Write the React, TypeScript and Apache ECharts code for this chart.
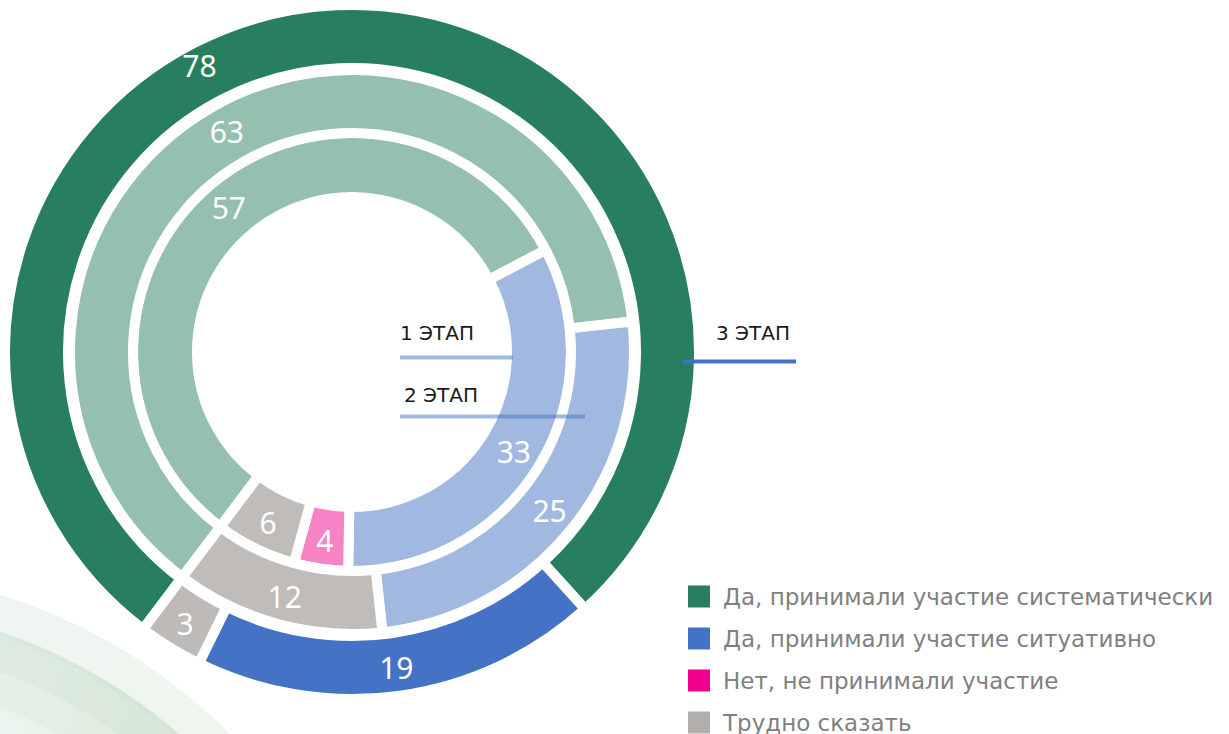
import React, { useEffect, useRef } from "react";
import * as echarts from "echarts";

const categories = [
  "Да, принимали участие систематически",
  "Да, принимали участие ситуативно",
  "Нет, не принимали участие",
  "Трудно сказать",
];
const stage1Values: (number | null)[] = [57, 33, 4, 6];
const stage2Values: (number | null)[] = [63, 25, null, 12];
const stage3Values: (number | null)[] = [78, 19, null, 3];

const darkColors = ["#287F60", "#4472C4", "#F0008C", "#B2AEAC"];
const lightColors = ["#95BFAF", "#A1B8E0", "#F782C6", "#BFBCBA"];
const outerColors = ["#287F60", "#4472C4", "#F0008C", "#BDBAB8"];

const FONT = "'Noto Sans', 'DejaVu Sans', sans-serif";
const WIDE_FONT = "'DejaVu Sans', 'Noto Sans', sans-serif";
const CX = 352;
const CY = 352;
const START = 233;
const LABEL78_ANGLE = 118;
const LABEL78_R = 325;

function buildData(values: (number | null)[], colors: string[]) {
  return categories
    .map((name, i) => ({ name, value: values[i], itemStyle: { color: colors[i] } }))
    .filter((d) => d.value !== null);
}

export default function App() {
  const ref = useRef<HTMLDivElement>(null);
  useEffect(() => {
    const chart = echarts.init(ref.current!, null, { renderer: "svg" });
    const baseSeries = {
      type: "pie",
      center: [CX, CY],
      startAngle: START,
      clockwise: true,
      silent: true,
      avoidLabelOverlap: false,
      label: {
        show: true,
        position: "inside",
        formatter: "{c}",
        color: "#ffffff",
        fontSize: 30,
        fontFamily: FONT,
        fontWeight: "normal",
      },
      labelLine: { show: false },
      itemStyle: { borderColor: "#ffffff", borderWidth: 10 },
      emphasis: { disabled: true },
    };
    const a = (LABEL78_ANGLE * Math.PI) / 180;
    const decoStops = (c1: string, c2: string) =>
      new echarts.graphic.LinearGradient(0, 600, 240, 734, [
        { offset: 0, color: c1 },
        { offset: 1, color: c2 },
      ], true);
    chart.setOption({
      animation: false,
      legend: {
        orient: "vertical",
        left: 688,
        top: 585,
        height: 160,
        padding: 0,
        itemWidth: 22,
        itemHeight: 22,
        itemGap: 19,
        icon: "rect",
        selectedMode: false,
        itemStyle: { borderWidth: 0 },
        textStyle: { color: "#808080", fontSize: 23, lineHeight: 22, fontFamily: WIDE_FONT, padding: [0, 0, 0, 8] },
        data: categories.map((name, i) => ({ name, itemStyle: { color: darkColors[i], borderWidth: 0 } })),
      },
      graphic: [
        { type: "circle", z: 0, shape: { cx: -165, cy: 1128, r: 558 }, style: { fill: decoStops("#EFF5F2", "#EFF6ED") } },
        { type: "circle", z: 0, shape: { cx: -165, cy: 1128, r: 523 }, style: { fill: decoStops("#D8E7E0", "#D2E5CF") } },
        { type: "circle", z: 0, shape: { cx: -165, cy: 1128, r: 519 }, style: { fill: decoStops("#DDEAE4", "#D7E8D3") } },
        { type: "circle", z: 0, shape: { cx: -165, cy: 1128, r: 485 }, style: { fill: decoStops("#E5EFEA", "#DFECDB") } },
        { type: "circle", z: 0, shape: { cx: -165, cy: 1128, r: 452 }, style: { fill: decoStops("#EDF4F1", "#E8F1E5") } },
        { type: "text", z: 100, x: 400, y: 333, style: { text: "1 ЭТАП", fontSize: 20, fontFamily: WIDE_FONT, fill: "#1A1A1A", verticalAlign: "middle" } },
        { type: "text", z: 100, x: 404, y: 395, style: { text: "2 ЭТАП", fontSize: 20, fontFamily: WIDE_FONT, fill: "#1A1A1A", verticalAlign: "middle" } },
        { type: "text", z: 100, x: 716, y: 333, style: { text: "3 ЭТАП", fontSize: 20, fontFamily: WIDE_FONT, fill: "#1A1A1A", verticalAlign: "middle" } },
        { type: "line", z: 100, shape: { x1: 400, y1: 357.5, x2: 513, y2: 357.5 }, style: { stroke: "rgba(68,114,196,0.5)", lineWidth: 4 } },
        { type: "line", z: 100, shape: { x1: 400, y1: 416.5, x2: 585, y2: 416.5 }, style: { stroke: "rgba(68,114,196,0.5)", lineWidth: 4 } },
        { type: "line", z: 100, shape: { x1: 683, y1: 361.5, x2: 796, y2: 361.5 }, style: { stroke: "#4472C4", lineWidth: 4 } },
      ],
      series: [
        { ...baseSeries, name: "1 ЭТАП", z: 2, radius: [155, 219], data: buildData(stage1Values, lightColors) },
        { ...baseSeries, name: "2 ЭТАП", z: 2, radius: [219, 282], data: buildData(stage2Values, lightColors) },
        {
          ...baseSeries,
          name: "3 ЭТАП",
          z: 2,
          radius: [284, 347],
          data: buildData(stage3Values, outerColors),
          labelLayout: (params: any) =>
            params.dataIndex === 0
              ? { x: CX + LABEL78_R * Math.cos(a), y: CY - LABEL78_R * Math.sin(a) }
              : {},
        },
      ],
    });
    return () => chart.dispose();
  }, []);
  return (
    <div
      ref={ref}
      style={{ position: "fixed", left: 0, top: 0, width: 1229, height: 734, background: "#ffffff" }}
    />
  );
}
